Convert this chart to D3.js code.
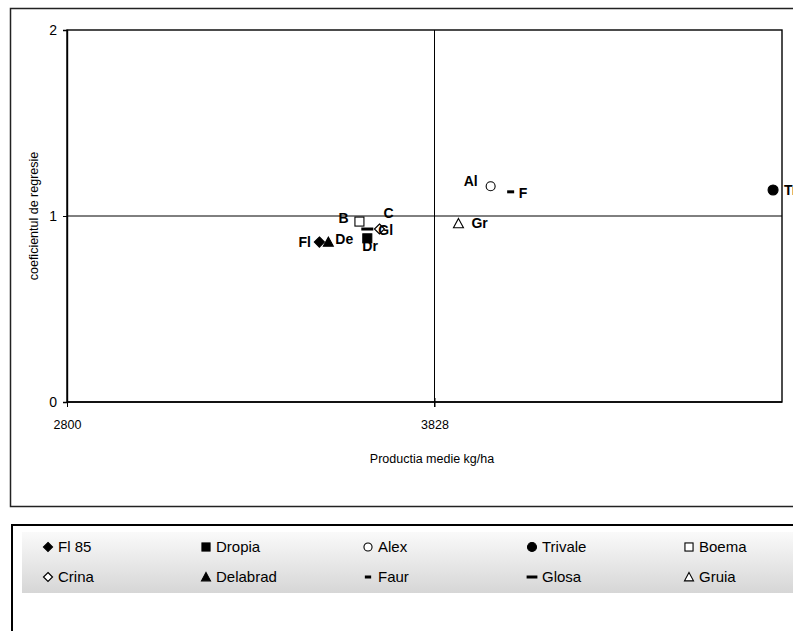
<!DOCTYPE html>
<html>
<head>
<meta charset="utf-8">
<script src="https://cdn.jsdelivr.net/npm/d3@7"></script>
<style>
  html, body { margin: 0; padding: 0; background: #fff; overflow: hidden; }
  svg { display: block; font-family: "Liberation Sans", Arial, sans-serif; }
</style>
</head>
<body>
<svg id="chart" width="793" height="631"></svg>
<script>
// ---- data ----
const varieties = ["Fl 85", "Dropia", "Alex", "Trivale", "Boema", "Crina", "Delabrad", "Faur", "Glosa", "Gruia"];
const shortLabels = ["Fl", "Dr", "Al", "Tr", "B", "C", "De", "F", "Gl", "Gr"];
const production = [3506, 3640, 3985, 4775, 3618, 3674, 3531, 4041, 3640, 3895];
const regressionCoef = [0.86, 0.88, 1.16, 1.14, 0.97, 0.93, 0.86, 1.13, 0.93, 0.96];
const xTicks = [2800, 3828];
const yTicks = [0, 1, 2];
const meanProduction = 3828;
const refCoef = 1;

// ---- styling (not data) ----
const markerTypes = ["diamondFilled", "squareFilled", "circleOpen", "circleFilled", "squareOpen",
                     "diamondOpen", "triangleFilled", "dashShort", "dashLong", "triangleOpen"];
const labelOffsets = [[-21, 0], [-5, 8], [-27, -5], [11, 0], [-21, -4],
                      [4, -16], [7, -3], [8, 1], [11, 1], [13, 0]];

const svg = d3.select("#chart");

// outer chart frame
svg.append("rect").attr("x", 10.5).attr("y", 8.5).attr("width", 800).attr("height", 498)
  .attr("fill", "#fff").attr("stroke", "#222").attr("stroke-width", 1.5);

const plot = {left: 67, right: 782, top: 30, bottom: 402};
const x = d3.scaleLinear().domain([2800, 4800]).range([plot.left, plot.right]);
const y = d3.scaleLinear().domain([0, 2]).range([plot.bottom, plot.top]);

// plot area border
svg.append("rect").attr("x", plot.left).attr("y", plot.top)
  .attr("width", plot.right - plot.left).attr("height", plot.bottom - plot.top)
  .attr("fill", "none").attr("stroke", "#000").attr("stroke-width", 1.4);

// reference lines
svg.append("line").attr("x1", x(meanProduction)).attr("x2", x(meanProduction))
  .attr("y1", y(2)).attr("y2", y(0) + 5).attr("stroke", "#000").attr("stroke-width", 1);
svg.append("line").attr("x1", plot.left).attr("x2", plot.right)
  .attr("y1", y(refCoef)).attr("y2", y(refCoef)).attr("stroke", "#000").attr("stroke-width", 1);

// axes
const yAxis = d3.axisLeft(y).tickValues(yTicks).tickFormat(d3.format("d")).tickSize(4).tickPadding(6);
const gy = svg.append("g").attr("transform", `translate(${plot.left},0)`).call(yAxis);
gy.select(".domain").attr("stroke-width", 1.4);
gy.selectAll("text").attr("font-size", 14).attr("fill", "#000");

const xAxis = d3.axisBottom(x).tickValues(xTicks).tickFormat(d3.format("d")).tickSize(5).tickPadding(13);
const gx = svg.append("g").attr("transform", `translate(0,${plot.bottom})`).call(xAxis);
gx.select(".domain").attr("stroke-width", 1.4).attr("d", `M${plot.left},0H${plot.right}`);
gx.selectAll(".tick line").attr("y1", -4);
gx.selectAll("text").attr("font-size", 12.5).attr("fill", "#000");

// axis titles
svg.append("text").attr("x", 432).attr("y", 463).attr("text-anchor", "middle")
  .attr("font-size", 12.5).attr("fill", "#000").text("Productia medie kg/ha");
svg.append("text").attr("transform", `translate(38,${(plot.top + plot.bottom) / 2}) rotate(-90)`)
  .attr("text-anchor", "middle").attr("font-size", 12.5).attr("fill", "#000").text("coeficientul de regresie");

// marker drawing
function drawMarker(g, type, cx, cy, scale) {
  const s = scale || 1;
  if (type === "diamondFilled" || type === "diamondOpen") {
    const r = 5 * s;
    g.append("path").attr("d", `M${cx},${cy - r}L${cx + r},${cy}L${cx},${cy + r}L${cx - r},${cy}Z`)
      .attr("fill", type === "diamondFilled" ? "#000" : "#fff").attr("stroke", "#000").attr("stroke-width", 1.2);
  } else if (type === "squareFilled" || type === "squareOpen") {
    const r = 4.5 * s;
    g.append("rect").attr("x", cx - r).attr("y", cy - r).attr("width", 2 * r).attr("height", 2 * r)
      .attr("fill", type === "squareFilled" ? "#000" : "#fff").attr("stroke", "#000").attr("stroke-width", 1.1);
  } else if (type === "circleOpen" || type === "circleFilled") {
    g.append("circle").attr("cx", cx).attr("cy", cy).attr("r", (type === "circleFilled" ? 5 : 4.5) * s)
      .attr("fill", type === "circleFilled" ? "#000" : "#fff").attr("stroke", "#000").attr("stroke-width", 1.1);
  } else if (type === "triangleFilled" || type === "triangleOpen") {
    const r = 5 * s;
    g.append("path").attr("d", `M${cx},${cy - r}L${cx + r},${cy + r * 0.85}L${cx - r},${cy + r * 0.85}Z`)
      .attr("fill", type === "triangleFilled" ? "#000" : "#fff").attr("stroke", "#000").attr("stroke-width", 1.1);
  } else if (type === "dashShort" || type === "dashLong") {
    const hw = (type === "dashShort" ? 3.5 : 6) * s;
    g.append("rect").attr("x", cx - hw).attr("y", cy - 1.5).attr("width", 2 * hw).attr("height", 3)
      .attr("fill", "#000");
  }
}

// points
const gp = svg.append("g");
varieties.forEach((v, i) => {
  drawMarker(gp, markerTypes[i], x(production[i]), y(regressionCoef[i]), 1);
});
// labels
varieties.forEach((v, i) => {
  svg.append("text")
    .attr("x", x(production[i]) + labelOffsets[i][0])
    .attr("y", y(regressionCoef[i]) + labelOffsets[i][1])
    .attr("dy", "0.36em")
    .attr("font-size", 14).attr("font-weight", "bold").attr("fill", "#000")
    .text(shortLabels[i]);
});

// legend
const defs = svg.append("defs");
const grad = defs.append("linearGradient").attr("id", "lg").attr("x1", 0).attr("y1", 0).attr("x2", 0).attr("y2", 1);
grad.append("stop").attr("offset", "0%").attr("stop-color", "#fafafa");
grad.append("stop").attr("offset", "100%").attr("stop-color", "#d6d6d6");

svg.append("rect").attr("x", 12).attr("y", 525).attr("width", 800).attr("height", 200)
  .attr("fill", "#fff").attr("stroke", "#000").attr("stroke-width", 2);
svg.append("rect").attr("x", 22).attr("y", 532).attr("width", 780).attr("height", 61)
  .attr("fill", "url(#lg)");

const legendCols = [48, 206, 368, 532, 689];
const legendRows = [547, 577];
const gl = svg.append("g");
varieties.forEach((v, i) => {
  const col = i % 5, row = Math.floor(i / 5);
  const mx = legendCols[col], my = legendRows[row];
  drawMarker(gl, markerTypes[i], mx, my, 0.9);
  gl.append("text").attr("x", mx + 10).attr("y", my).attr("dy", "0.36em")
    .attr("font-size", 15).attr("fill", "#000").text(v);
});
</script>
</body>
</html>
